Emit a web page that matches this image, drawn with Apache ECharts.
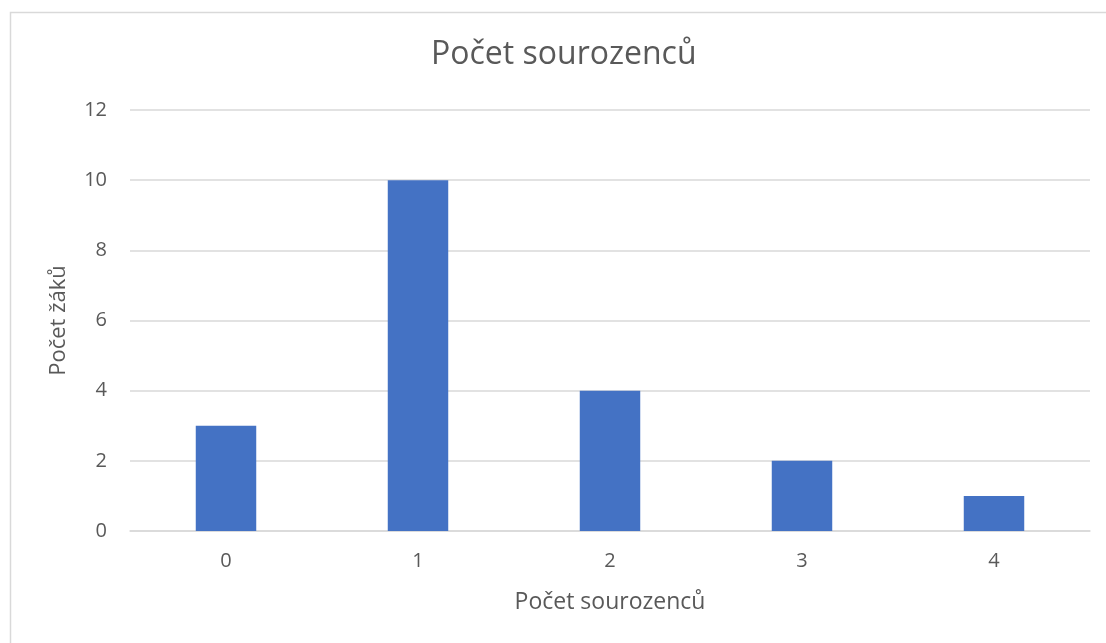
<!DOCTYPE html>
<html><head><meta charset="utf-8">
<script src="https://cdn.jsdelivr.net/npm/echarts@6/dist/echarts.min.js"></script>
<style>html,body{margin:0;padding:0;background:#fff}#c{width:1106px;height:643px}</style>
</head><body><div id="c"></div>
<script>
const categories = ['0', '1', '2', '3', '4'];
const values = [3, 10, 4, 2, 1];
const titleText = 'Počet sourozenců';
const xName = 'Počet sourozenců';
const yName = 'Počet žáků';
const font = 'Open Sans';
const chart = echarts.init(document.getElementById('c'));
chart.setOption({
  animation: false,
  backgroundColor: '#fff',
  graphic: [{type: 'rect', left: 8, top: 10, shape: {width: 1110, height: 650}, style: {fill: 'none', stroke: '#D9D9D9', lineWidth: 1.5}, silent: true}],
  title: {text: titleText, left: 426, top: 34, textStyle: {fontFamily: font, fontSize: 32, fontWeight: 'normal', color: '#595959'}},
  grid: {left: 130, right: 16, top: 110, bottom: 112},
  xAxis: {
    type: 'category', data: categories,
    name: xName, nameLocation: 'middle', nameGap: 60,
    nameTextStyle: {fontFamily: font, fontSize: 23, color: '#595959'},
    axisLine: {lineStyle: {color: '#D9D9D9', width: 1.5}},
    axisTick: {show: false},
    axisLabel: {fontFamily: font, fontSize: 20, color: '#595959', margin: 20}
  },
  yAxis: {
    type: 'value', min: 0, max: 12, interval: 2,
    name: yName, nameLocation: 'middle', nameGap: 60, nameRotate: 90,
    nameTextStyle: {fontFamily: font, fontSize: 22, color: '#595959'},
    axisLine: {show: false}, axisTick: {show: false},
    axisLabel: {fontFamily: font, fontSize: 20, color: '#595959', margin: 23},
    splitLine: {lineStyle: {color: '#D9D9D9', width: 1.5}}
  },
  series: [{type: 'bar', data: values, barWidth: '31.5%', itemStyle: {color: '#4472C4'}}]
});
</script></body></html>
